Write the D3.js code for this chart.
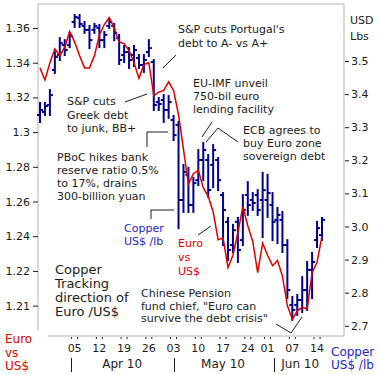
<!DOCTYPE html>
<html>
<head>
<meta charset="utf-8">
<script src="https://cdn.jsdelivr.net/npm/d3@7"></script>
<style>
  html, body { margin: 0; padding: 0; background: #fff; }
  svg text { font-family: 'DejaVu Sans', Verdana, sans-serif; }
</style>
</head>
<body>
<div id="chart"></div>
<script>
// Euro / US$ daily close (left axis)
const euro = [1.337, 1.330, 1.340, 1.348, 1.344, 1.349, 1.358, 1.352, 1.344, 1.337,
  1.337, 1.344, 1.356, 1.362, 1.366, 1.360, 1.352, 1.351, 1.347, 1.340,
  1.331, 1.339, 1.340, 1.321, 1.323, 1.324, 1.329, 1.324, 1.310, 1.290,
  1.270, 1.276, 1.278, 1.268, 1.263, 1.254, 1.238, 1.239, 1.222, 1.229,
  1.242, 1.257, 1.246, 1.237, 1.219, 1.236, 1.229, 1.223, 1.226, 1.217,
  1.200, 1.192, 1.197, 1.199, 1.198, 1.219, 1.225, 1.240]

// Copper US$/lb daily bars (right axis)
const copperOpen = [3.337, 3.346, 3.367, 3.473, 3.518, 3.548, 3.548, 3.618, 3.630, 3.606,
  3.594, 3.594, 3.600, 3.563, 3.606, 3.606, 3.569, 3.518, 3.527, 3.518,
  3.509, 3.488, 3.527, 3.497, 3.376, 3.382, 3.352, 3.322, 3.307, 3.080,
  3.156, 3.065, 3.140, 3.201, 3.201, 3.186, 3.201, 3.095, 3.014, 2.944,
  3.014, 2.959, 3.095, 3.080, 3.095, 3.080, 3.080, 3.065, 3.020, 3.020,
  2.944, 2.763, 2.763, 2.778, 2.808, 2.869, 2.959, 2.974]
const copperHigh = [3.373, 3.373, 3.412, 3.527, 3.569, 3.563, 3.585, 3.639, 3.639, 3.618,
  3.606, 3.612, 3.609, 3.588, 3.624, 3.612, 3.579, 3.545, 3.539, 3.545,
  3.518, 3.518, 3.563, 3.503, 3.388, 3.397, 3.394, 3.334, 3.316, 3.186,
  3.177, 3.147, 3.231, 3.252, 3.216, 3.246, 3.207, 3.101, 3.026, 3.005,
  3.026, 3.095, 3.134, 3.101, 3.110, 3.162, 3.156, 3.101, 3.056, 3.044,
  2.959, 2.787, 2.793, 2.847, 2.893, 2.920, 3.014, 3.026]
const copperLow = [3.316, 3.337, 3.337, 3.464, 3.503, 3.518, 3.542, 3.603, 3.603, 3.585,
  3.539, 3.585, 3.542, 3.542, 3.600, 3.563, 3.491, 3.497, 3.479, 3.485,
  3.479, 3.467, 3.515, 3.352, 3.352, 3.316, 3.328, 3.261, 2.995, 3.044,
  3.044, 3.044, 3.125, 3.140, 3.089, 3.119, 3.110, 2.944, 2.899, 2.923,
  2.893, 2.944, 3.035, 3.050, 3.035, 2.968, 3.029, 2.959, 2.950, 2.923,
  2.784, 2.718, 2.733, 2.742, 2.748, 2.784, 2.938, 2.959]
const copperClose = [3.352, 3.364, 3.397, 3.512, 3.554, 3.533, 3.576, 3.633, 3.612, 3.594,
  3.563, 3.606, 3.563, 3.579, 3.618, 3.585, 3.503, 3.527, 3.503, 3.533,
  3.488, 3.503, 3.539, 3.367, 3.370, 3.352, 3.376, 3.276, 3.080, 3.165,
  3.065, 3.131, 3.201, 3.231, 3.110, 3.231, 3.140, 3.050, 2.929, 2.989,
  2.929, 3.050, 3.065, 3.071, 3.050, 3.110, 3.101, 3.014, 3.035, 2.944,
  2.808, 2.748, 2.778, 2.808, 2.869, 2.893, 2.995, 3.020]

// axis ticks
const euroTicks = [1.20, 1.22, 1.24, 1.26, 1.28, 1.30, 1.32, 1.34, 1.36]
const euroTickLabels = ['1.21', '1.22', '1.24', '1.26', '1.28', '1.3', '1.32', '1.34', '1.36']
const copperTicks = [2.7, 2.8, 2.9, 3.0, 3.1, 3.2, 3.3, 3.4, 3.5]
const dayTickIdx = [7, 12, 17, 22, 27, 32, 37, 42, 46, 51, 56]
const dayTickLabels = ['05', '12', '19', '26', '03', '10', '17', '24', '01', '07', '14']
const monthLabels = ['Apr 10', 'May 10', 'Jun 10']
const monthMidIdx = [16.6, 37, 52.6]
const monthStartIdx = [6.3, 27, 47.3]

const W = 379
const H = 375
const plot = { left: 38, top: 4, right: 344, bottom: 336 }
const ink = '#1c1c1c'
const red = '#e00000'
const navy = '#00008c'
const blueText = '#2626c8'

const svg = d3.select('#chart').append('svg').attr('width', W).attr('height', H)
svg.append('rect').attr('width', W).attr('height', H).attr('fill', '#fff')

const x = d3.scaleLinear().domain([0, euro.length - 1]).range([40, 322])
const yL = d3.scaleLinear().domain([1.20, 1.36]).range([305.6, 28])
const yR = d3.scaleLinear().domain([2.7, 3.5]).range([325.8, 61])

// 边框（左下角留空）
const frame = svg.append('g').attr('stroke', '#b4b4b4').attr('fill', 'none')
frame.append('path').attr('d', `M${plot.left},330V${plot.top}H${plot.right}V${plot.bottom}H48`)

// 左轴
const leftAxis = svg.append('g')
  .attr('transform', `translate(${plot.left},0)`)
  .call(d3.axisLeft(yL).tickValues(euroTicks).tickFormat((d, i) => euroTickLabels[i]).tickSize(5).tickPadding(3))
leftAxis.select('.domain').remove()
leftAxis.selectAll('line').attr('stroke', ink)
leftAxis.selectAll('text').attr('font-size', 11).attr('fill', ink).style('font-family', "'DejaVu Sans', Verdana, sans-serif")

// 右轴
const rightAxis = svg.append('g')
  .attr('transform', `translate(${plot.right + 1},0)`)
  .call(d3.axisRight(yR).tickValues(copperTicks).tickFormat(d3.format('.1f')).tickSize(4).tickPadding(2))
rightAxis.select('.domain').remove()
rightAxis.selectAll('line').attr('stroke', ink)
rightAxis.selectAll('text').attr('font-size', 11).attr('fill', ink).style('font-family', "'DejaVu Sans', Verdana, sans-serif")

// 底部日期
const bottom = svg.append('g').attr('font-size', 11).attr('fill', ink)
dayTickIdx.forEach((d, i) => {
  const px = x(d)
  bottom.append('text').attr('x', px).attr('y', 352).attr('text-anchor', 'middle').text(dayTickLabels[i])
  ;[-3, 3].forEach(o => {
    bottom.append('line').attr('x1', px + o).attr('x2', px + o).attr('y1', 337).attr('y2', 339).attr('stroke', ink)
  })
})
monthLabels.forEach((m, i) => {
  bottom.append('text').attr('x', x(monthMidIdx[i])).attr('y', 368).attr('text-anchor', 'middle').attr('font-size', 12).text(m)
  const sx = Math.round(x(monthStartIdx[i])) + 0.5
  bottom.append('line').attr('x1', sx).attr('x2', sx).attr('y1', 358).attr('y2', 372).attr('stroke', ink)
})

// 铜价 OHLC
const bars = svg.append('g').attr('stroke', navy).attr('stroke-width', 2)
euro.forEach((_, i) => {
  const px = x(i)
  bars.append('line').attr('x1', px).attr('x2', px).attr('y1', yR(copperHigh[i]) - 1).attr('y2', yR(copperLow[i]) + 1)
  bars.append('line').attr('x1', px - 3).attr('x2', px).attr('y1', yR(copperOpen[i])).attr('y2', yR(copperOpen[i]))
  bars.append('line').attr('x1', px).attr('x2', px + 3).attr('y1', yR(copperClose[i])).attr('y2', yR(copperClose[i]))
})

// 欧元线
svg.append('path')
  .datum(euro)
  .attr('fill', 'none')
  .attr('stroke', red)
  .attr('stroke-width', 1.5)
  .attr('d', d3.line().x((d, i) => x(i)).y(d => yL(d)))

// 注释
const notes = [
  { lines: ["S&P cuts Portugal's", 'debt to A- vs A+'], x: 178, y: 29, dy: 14 },
  { lines: ['S&P cuts', 'Greek debt', 'to junk, BB+'], x: 67, y: 101, dy: 13.5 },
  { lines: ['PBoC hikes bank', 'reserve ratio 0.5%', 'to 17%, drains', '300-billion yuan'], x: 57, y: 157, dy: 13 },
  { lines: ['EU-IMF unveil', '750-bil euro', 'lending facility'], x: 193, y: 83, dy: 13 },
  { lines: ['ECB agrees to', 'buy Euro zone', 'sovereign debt'], x: 243, y: 130, dy: 13 },
  { lines: ['Copper', 'US$ /lb'], x: 124, y: 228, dy: 13, color: blueText },
  { lines: ['Euro', 'vs', 'US$'], x: 178, y: 243, dy: 14, color: red },
  { lines: ['Copper', 'Tracking', 'direction of', 'Euro /US$'], x: 55, y: 270, dy: 14, size: 13 },
  { lines: ['Chinese Pension', 'fund chief, "Euro can', 'survive the debt crisis"'], x: 141, y: 293, dy: 12.5 },
  { lines: ['Euro', 'vs', 'US$'], x: 5, y: 339, dy: 13.5, color: red, size: 12 },
  { lines: ['Copper', 'US$ /lb'], x: 331, y: 352, dy: 12.5, color: blueText, size: 12 },
  { lines: ['USD', 'Lbs'], x: 350, y: 20, dy: 16 },
]
notes.forEach(n => {
  const t = svg.append('text')
    .attr('font-size', n.size || 11)
    .attr('fill', n.color || ink)
  n.lines.forEach((s, i) => {
    t.append('tspan').attr('x', n.x).attr('y', n.y + i * n.dy + 4).text(s)
  })
})

const leaders = [
  [[163, 68], [176, 55]],
  [[125, 102], [147, 94]],
  [[147, 147], [147, 132], [168, 132]],
  [[202, 137], [212, 122]],
  [[206, 142], [218, 128], [238, 142]],
  [[151, 219], [151, 210], [174, 210]],
  [[198, 235], [211, 226]],
  [[276, 324], [291, 333], [302, 317]],
]
svg.append('g')
  .selectAll('path')
  .data(leaders)
  .join('path')
  .attr('fill', 'none')
  .attr('stroke', ink)
  .attr('stroke-width', 1)
  .attr('d', d3.line())
</script>
</body>
</html>
